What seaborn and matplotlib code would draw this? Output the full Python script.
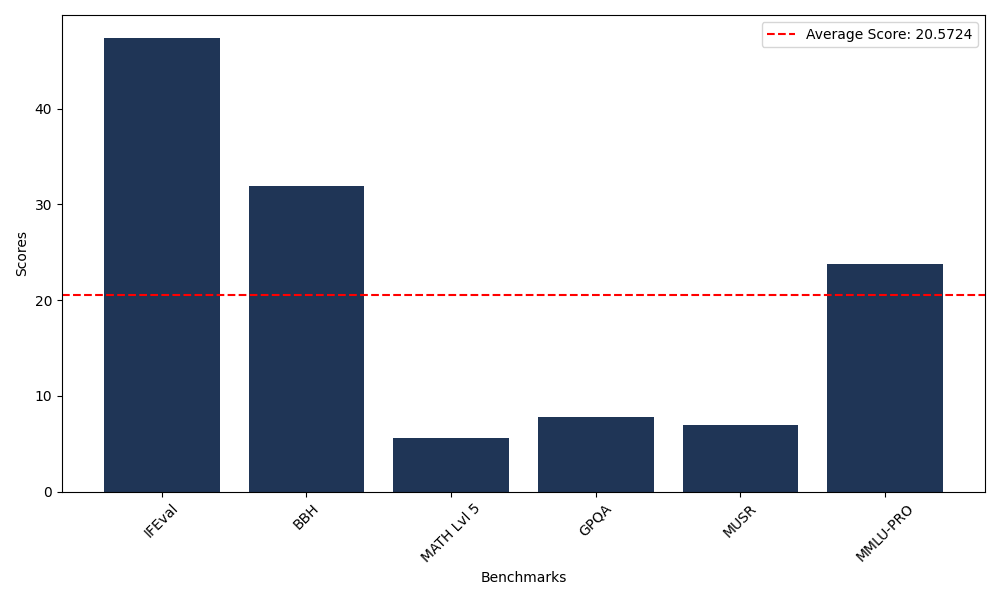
import matplotlib
matplotlib.use("Agg")
import matplotlib.pyplot as plt
import seaborn as sns
import pandas as pd

benchmarks = ["IFEval", "BBH", "MATH Lvl 5", "GPQA", "MUSR", "MMLU-PRO"]
scores = [47.42, 31.94, 5.65, 7.75, 6.91, 23.77]
average_score = 20.5724

df = pd.DataFrame({"Benchmarks": benchmarks, "Scores": scores})

fig, ax = plt.subplots(figsize=(10, 6), dpi=100)
sns.barplot(data=df, x="Benchmarks", y="Scores", color="#1f3556", saturation=1, width=0.8, ax=ax)
ax.axhline(average_score, color="red", linestyle="--", label=f"Average Score: {average_score:.4f}")
# matplotlib-style 5% x margins instead of seaborn's tight categorical limits
span = len(benchmarks) - 1 + 0.8
pad = 0.05 * span
ax.set_xlim(-0.4 - pad, len(benchmarks) - 1 + 0.4 + pad)
ax.set_xlabel("Benchmarks")
ax.set_ylabel("Scores")
plt.xticks(rotation=45)
ax.legend(loc="upper right")
plt.tight_layout()
plt.savefig("out.png")
